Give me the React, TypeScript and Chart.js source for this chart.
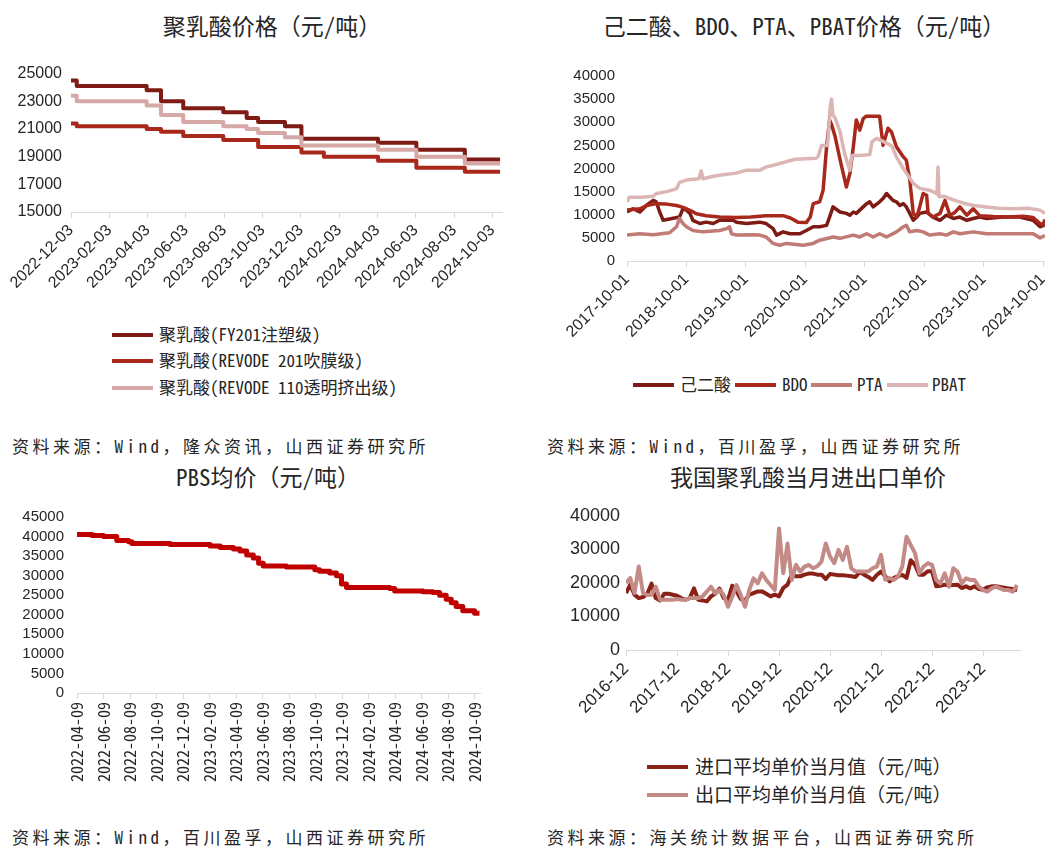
import React, { useEffect, useRef } from 'react';
import { Chart, registerables } from 'chart.js';

Chart.register(...registerables);

const MONO = '"Noto Sans Mono CJK SC", "Noto Sans CJK SC", "DejaVu Sans Mono", monospace';
const SANS = '"Liberation Sans", Arial, "Noto Sans CJK SC", sans-serif';
const AXIS_GREY = '#d9d9d9';
const TEXT = '#262626';

// ---------- Panel 1: 聚乳酸价格 (step series, months since 2022-12-03) ----------
const plaTickLabels = ['2022-12-03', '2023-02-03', '2023-04-03', '2023-06-03', '2023-08-03', '2023-10-03', '2023-12-03', '2024-02-03', '2024-04-03', '2024-06-03', '2024-08-03', '2024-10-03'];
const plaChangeMonths = [0, 0.3, 3.95, 4.7, 5.86, 7.95, 9.17, 9.77, 11.17, 12.03, 13.2, 16.03, 18.03, 20.56, 22.4];
const plaFY201 = [24500, 24100, 23800, 23000, 22500, 22200, 21800, 21500, 21200, 20300, 20300, 20000, 19500, 18800, 18800];
const plaRevode201 = [21400, 21200, 21000, 20800, 20500, 20200, 20200, 19700, 19700, 19300, 19000, 18700, 18200, 17900, 17900];
const plaRevode110 = [23400, 23000, 22700, 22000, 21500, 21200, 21000, 20700, 20400, 19800, 19800, 19500, 19000, 18500, 18500];
const plaLegend = ['聚乳酸(FY201注塑级)', '聚乳酸(REVODE 201吹膜级)', '聚乳酸(REVODE 110透明挤出级)'];

// ---------- Panel 2: 己二酸、BDO、PTA、PBAT (months since 2017-10-01) ----------
const matTickLabels = ['2017-10-01', '2018-10-01', '2019-10-01', '2020-10-01', '2021-10-01', '2022-10-01', '2023-10-01', '2024-10-01'];
const adipicMonths = [0, 1.2, 2.6, 3.9, 5.3, 5.9, 6.6, 7.3, 10.6, 11.3, 12, 12.7, 13.3, 14.7, 16, 17.4, 18.7, 21.4, 22.1, 24.1, 26.8, 28.1, 29.5, 30.2, 31.5, 32.9, 34.9, 36.2, 37.6, 38.9, 40.3, 40.9, 41.6, 43, 44.3, 45, 45.7, 46.3, 47, 48.4, 49, 49.7, 51, 51.7, 52.4, 53, 53.7, 54.4, 55.1, 55.8, 56.4, 57.1, 57.8, 58.5, 59.1, 60.5, 61.8, 63.2, 64.5, 65.9, 67.2, 68.6, 69.9, 71.2, 72.6, 76, 79.3, 82, 83.4, 84.4];
const adipicPrices = [10600, 11300, 10600, 12000, 13100, 12800, 10600, 8800, 9500, 11300, 11000, 10300, 8800, 8100, 8400, 8100, 8800, 8800, 8400, 8100, 8400, 8100, 7000, 5600, 6300, 5900, 5900, 6600, 7400, 7400, 7700, 9500, 11700, 10600, 10300, 9900, 10600, 10300, 11000, 12400, 12800, 11700, 12800, 13500, 14600, 13900, 13100, 12800, 12000, 12400, 11700, 10300, 8800, 9500, 10300, 10600, 9500, 8800, 9900, 9200, 9500, 8800, 9200, 9500, 9200, 9500, 9500, 8800, 7400, 7800];
const bdoMonths = [0, 1.5, 2.6, 4, 5.9, 8, 10, 11, 12, 13, 14, 16, 18.7, 22, 25, 28, 31.5, 33, 34.5, 36.2, 37, 37.6, 38.9, 39.6, 40.3, 40.9, 41.3, 42, 43, 44.3, 45, 45.7, 46.3, 47, 47.7, 48.3, 51, 51.7, 52.7, 53.4, 54.4, 55.8, 56.4, 57.1, 57.8, 58.5, 59.1, 59.8, 60.5, 60.8, 61.8, 63.2, 64.2, 65.2, 66.2, 67.2, 68.6, 69.9, 71.2, 74, 77, 80, 82, 83.4, 84, 84.4];
const bdoPrices = [11000, 11200, 11300, 12000, 12400, 12300, 12000, 11700, 11300, 10800, 10200, 9800, 9500, 9400, 9500, 9800, 9800, 9300, 8400, 8300, 9500, 12400, 12800, 15300, 24700, 30500, 29500, 27000, 22000, 16000, 18900, 24700, 30500, 28300, 30800, 31300, 31300, 25000, 28700, 27900, 24700, 22500, 21800, 17500, 10300, 9500, 11700, 14600, 14200, 10300, 9500, 10300, 13100, 9900, 10500, 11700, 9900, 11300, 9800, 9600, 9500, 9700, 9400, 8100, 7800, 9000];
const ptaMonths = [0, 2.6, 5.3, 8.6, 10, 10.6, 11.3, 12, 13.3, 15.4, 18.7, 20.1, 20.7, 21.1, 22.1, 25.5, 26.8, 28.1, 29.5, 30.8, 32.2, 35.6, 37.6, 38.9, 41.6, 43, 45.7, 47, 48.4, 49.7, 51, 52.4, 54.4, 55.8, 56.4, 57.1, 58.5, 59.8, 61.1, 63.2, 64.5, 65.9, 67.2, 69.9, 72.6, 76, 79.3, 82, 83.4, 84.4];
const ptaPrices = [5600, 5900, 5700, 6100, 7400, 9200, 8100, 7400, 6600, 6300, 6600, 7000, 7400, 5900, 5600, 5700, 5600, 5200, 3800, 3400, 3800, 3400, 3800, 4500, 5200, 4900, 5600, 5200, 5900, 5200, 5900, 5200, 6300, 7400, 7700, 6300, 6600, 6300, 5600, 5900, 5600, 6300, 5900, 6300, 5900, 5900, 5900, 5900, 5000, 5500];
const pbatMonths = [0, 0.5, 3, 5.3, 6, 8, 10, 10.6, 12, 14.5, 15, 15.3, 17, 19, 22, 24, 26.8, 28, 30, 32.2, 34, 38.2, 38.6, 39.3, 40.5, 41, 41.3, 41.6, 42, 43, 44, 45, 45.4, 47, 49, 49.5, 50.4, 52.4, 53.5, 54.4, 55.5, 56.4, 57.8, 59.1, 61, 61.8, 62.6, 62.8, 63, 64, 65.9, 68, 70, 72.6, 75, 78, 81, 83.4, 84.4];
const pbatPrices = [12800, 13800, 13800, 14000, 14600, 15000, 15600, 17000, 17500, 17800, 19500, 17800, 18200, 18600, 19000, 19600, 19600, 20300, 20800, 21500, 22000, 22200, 22600, 25000, 25000, 33000, 35000, 31500, 31000, 28000, 23000, 19600, 22800, 22800, 23000, 25800, 26500, 25500, 24800, 22500, 20500, 19000, 16800, 15700, 15300, 15000, 14500, 20300, 13900, 14000, 13200, 12500, 12000, 11700, 11400, 11300, 11400, 11000, 10300];
const matLegend = ['己二酸', 'BDO', 'PTA', 'PBAT'];

// ---------- Panel 3: PBS均价 (step series, months since 2022-04-09) ----------
const pbsTickLabels = ['2022-04-09', '2022-06-09', '2022-08-09', '2022-10-09', '2022-12-09', '2023-02-09', '2023-04-09', '2023-06-09', '2023-08-09', '2023-10-09', '2023-12-09', '2024-02-09', '2024-04-09', '2024-06-09', '2024-08-09', '2024-10-09'];
const pbsMonths = [0, 1.13, 2.0, 3.0, 3.9, 4.14, 7.03, 10.04, 10.8, 11.8, 12.3, 12.8, 13.3, 13.7, 14.05, 15.8, 17.94, 18.3, 19.07, 19.57, 19.95, 20.33, 23.6, 23.96, 26.1, 26.85, 27.35, 27.85, 28.23, 28.6, 29.1, 29.99, 30.36];
const pbsPrices = [40500, 40300, 40000, 39000, 38700, 38200, 38000, 37600, 37200, 36800, 36300, 35300, 34500, 33200, 32500, 32200, 31500, 31100, 30700, 30000, 27900, 27000, 26700, 26100, 25900, 25700, 25000, 24000, 23100, 22100, 21000, 20400, 20400];

// ---------- Panel 4: 进出口单价 (monthly from 2016-12) ----------
const tradeTickLabels = ['2016-12', '2017-12', '2018-12', '2019-12', '2020-12', '2021-12', '2022-12', '2023-12'];
const importPrices = [17000, 19500, 16500, 15500, 15800, 16800, 19800, 15500, 14800, 16800, 16800, 16500, 16200, 15500, 15000, 15500, 18400, 15000, 14800, 14500, 16000, 16800, 18300, 15500, 15000, 19200, 17500, 15200, 14800, 16500, 17000, 17500, 17500, 16800, 16000, 16500, 16000, 18500, 19500, 22500, 22000, 22000, 22500, 22800, 22800, 22500, 22500, 21200, 22700, 22500, 22300, 22300, 22200, 22000, 21800, 23300, 22500, 21800, 20900, 22400, 23400, 22000, 20500, 21500, 22000, 22400, 21500, 26800, 25400, 22500, 22500, 23500, 23500, 19000, 19200, 19500, 19300, 19400, 19500, 18500, 19000, 18400, 19000, 18200, 18000, 18700, 19000, 19000, 18800, 18600, 18400, 18200, 17800];
const exportPrices = [20000, 21500, 17000, 24900, 17000, 16400, 16500, 18900, 15000, 15000, 15000, 15000, 15200, 15000, 15000, 15500, 15500, 15500, 16000, 17400, 18900, 16900, 17900, 16400, 12900, 15900, 19400, 16400, 12900, 17900, 21400, 19900, 22900, 20900, 19400, 17900, 36300, 22900, 31800, 20900, 25400, 23400, 24900, 25400, 24400, 25000, 26400, 31800, 27900, 25900, 29900, 26900, 30800, 24400, 23500, 23400, 23400, 23500, 24400, 24900, 28400, 21000, 21500, 20900, 21900, 24900, 33800, 31300, 28900, 22900, 24900, 25900, 25400, 20900, 19900, 22900, 18900, 24400, 23400, 19900, 21400, 20900, 20900, 18900, 17900, 17400, 18400, 18900, 18400, 17900, 17900, 17400, 19400];
const tradeLegend = ['进口平均单价当月值（元/吨）', '出口平均单价当月值（元/吨）'];

const pts = (xs: number[], ys: number[]) => xs.map((x, i) => ({ x, y: ys[i] }));
const monthly = (ys: number[]) => ys.map((y, i) => ({ x: i, y }));

function xAxis(labels: string[], step: number, max: number, rotation: number, size: number, family: string, height: number) {
  return {
    type: 'linear' as const,
    min: 0,
    max,
    afterBuildTicks: (s: any) => { s.ticks = labels.map((_, i) => ({ value: i * step })); },
    afterFit: (s: any) => { s.height = height; s.paddingLeft = 0; s.paddingRight = 0; },
    ticks: {
      autoSkip: false, minRotation: rotation, maxRotation: rotation, padding: 3, color: TEXT,
      font: { family, size }, callback: (_v: any, i: number) => labels[i],
    },
    grid: { display: true, drawOnChartArea: false, drawTicks: true, tickLength: 6, color: AXIS_GREY },
    border: { display: true, color: AXIS_GREY, width: 1 },
  };
}

function yAxis(min: number, max: number, step: number, size: number, width: number, padding: number) {
  return {
    type: 'linear' as const,
    min, max,
    afterFit: (s: any) => { s.width = width; },
    ticks: { stepSize: step, autoSkip: false, padding, color: TEXT, font: { family: SANS, size }, callback: (v: any) => String(v) },
    grid: { display: false, drawTicks: false },
    border: { display: false },
  };
}

function lineSet(data: any[], color: string, width: number, order: number, stepped = false) {
  return { data, borderColor: color, backgroundColor: color, borderWidth: width, pointRadius: 0, tension: 0, fill: false, stepped, order, borderJoinStyle: 'round' as const };
}

function baseOptions(x: any, y: any, top: number, right: number) {
  return {
    responsive: false,
    animation: false as const,
    devicePixelRatio: 1,
    events: [],
    layout: { padding: { top, right, bottom: 0, left: 0 } },
    plugins: { legend: { display: false }, tooltip: { enabled: false }, title: { display: false } },
    scales: { x, y },
  };
}

const C_PLA = ['#7d1b14', '#a8281c', '#d6a9a6'];
const C_MAT = ['#7d1b14', '#a8281c', '#c27a74', '#dcb6b4'];
const C_PBS = '#c00000';
const C_TRADE = ['#8a2117', '#c48a86'];

function ChartBox({ left, top, width, height, config }: { left: number; top: number; width: number; height: number; config: any }) {
  const ref = useRef<HTMLCanvasElement>(null);
  useEffect(() => {
    const chart = new Chart(ref.current as HTMLCanvasElement, config);
    return () => chart.destroy();
  }, []);
  return <canvas ref={ref} width={width} height={height} style={{ position: 'absolute', left, top }} />;
}

function Txt({ x, y, size, text, center, spacing }: { x: number; y: number; size: number; text: string; center?: boolean; spacing?: number }) {
  return (
    <div style={{
      position: 'absolute', left: x, top: y - 0.656 * size, fontSize: size, lineHeight: `${size * 1.2}px`,
      fontFamily: MONO, color: TEXT, whiteSpace: 'nowrap', letterSpacing: spacing ? `${spacing}px` : undefined,
      transform: center ? 'translateX(-50%)' : undefined,
    }}>{text}</div>
  );
}

function Swatch({ x, y, color }: { x: number; y: number; color: string }) {
  return <div style={{ position: 'absolute', left: x, top: y - 2, width: 41, height: 4, background: color }} />;
}

const cfg1 = {
  type: 'line',
  data: {
    datasets: [
      lineSet(pts(plaChangeMonths, plaFY201), C_PLA[0], 4, 2, true),
      lineSet(pts(plaChangeMonths, plaRevode201), C_PLA[1], 4, 1, true),
      lineSet(pts(plaChangeMonths, plaRevode110), C_PLA[2], 4, 0, true),
    ],
  },
  options: baseOptions(xAxis(plaTickLabels, 2, 22.5, 45, 16, SANS, 103), yAxis(15000, 25000, 2000, 16, 71, 9), 18, 18),
};

const cfg2 = {
  type: 'line',
  data: {
    datasets: [
      lineSet(pts(adipicMonths, adipicPrices), C_MAT[0], 3.5, 3),
      lineSet(pts(bdoMonths, bdoPrices), C_MAT[1], 3.5, 2),
      lineSet(pts(ptaMonths, ptaPrices), C_MAT[2], 3.5, 1),
      lineSet(pts(pbatMonths, pbatPrices), C_MAT[3], 3.5, 0),
    ],
  },
  options: baseOptions(xAxis(matTickLabels, 12, 84.4, 45, 16, SANS, 94), yAxis(0, 40000, 5000, 15, 97, 12), 21, 0),
};

const cfg3 = {
  type: 'line',
  data: { datasets: [lineSet(pts(pbsMonths, pbsPrices), C_PBS, 5, 0, true)] },
  options: baseOptions(xAxis(pbsTickLabels, 2, 30.4, 90, 16, MONO, 112), yAxis(0, 45000, 5000, 15, 77, 13), 20, 15),
};

const cfg4 = {
  type: 'line',
  data: {
    datasets: [
      lineSet(monthly(importPrices), C_TRADE[0], 4, 1),
      lineSet(monthly(exportPrices), C_TRADE[1], 4, 0),
    ],
  },
  options: baseOptions(xAxis(tradeTickLabels, 12, 92.7, 45, 17, SANS, 90), yAxis(0, 40000, 10000, 18, 96, 6), 21, 25),
};

export default function App() {
  return (
    <div style={{ position: 'absolute', left: 0, top: 0, width: 1045, height: 849, background: '#fff', overflow: 'hidden' }}>
      <Txt x={272} y={27} size={23} text="聚乳酸价格（元/吨）" center />
      <Txt x={804} y={27} size={23} text="己二酸、BDO、PTA、PBAT价格（元/吨）" center />
      <Txt x={268} y={478} size={23} text="PBS均价（元/吨）" center />
      <Txt x={808} y={478} size={23} text="我国聚乳酸当月进出口单价" center />

      <ChartBox left={0} top={55} width={520} height={260} config={cfg1} />
      <ChartBox left={530} top={55} width={515} height={300} config={cfg2} />
      <ChartBox left={0} top={495} width={495} height={310} config={cfg3} />
      <ChartBox left={530} top={495} width={515} height={245} config={cfg4} />

      {plaLegend.map((t, i) => (
        <React.Fragment key={t}>
          <Swatch x={112} y={[335, 361, 388][i]} color={C_PLA[i]} />
          <Txt x={159} y={[335, 361, 388][i]} size={17} text={t} />
        </React.Fragment>
      ))}

      {matLegend.map((t, i) => (
        <React.Fragment key={t}>
          <Swatch x={[633, 735, 811, 887][i]} y={385} color={C_MAT[i]} />
          <Txt x={[680, 782, 857, 932][i]} y={385} size={17} text={t} />
        </React.Fragment>
      ))}

      {tradeLegend.map((t, i) => (
        <React.Fragment key={t}>
          <Swatch x={647} y={[767, 795][i]} color={C_TRADE[i]} />
          <Txt x={695} y={[767, 795][i]} size={19} text={t} />
        </React.Fragment>
      ))}

      <Txt x={12} y={447} size={17} spacing={3.5} text="资料来源：Wind，隆众资讯，山西证券研究所" />
      <Txt x={547} y={447} size={17} spacing={3.5} text="资料来源：Wind，百川盈孚，山西证券研究所" />
      <Txt x={12} y={838} size={17} spacing={3.5} text="资料来源：Wind，百川盈孚，山西证券研究所" />
      <Txt x={547} y={838} size={17} spacing={3.5} text="资料来源：海关统计数据平台，山西证券研究所" />
    </div>
  );
}
